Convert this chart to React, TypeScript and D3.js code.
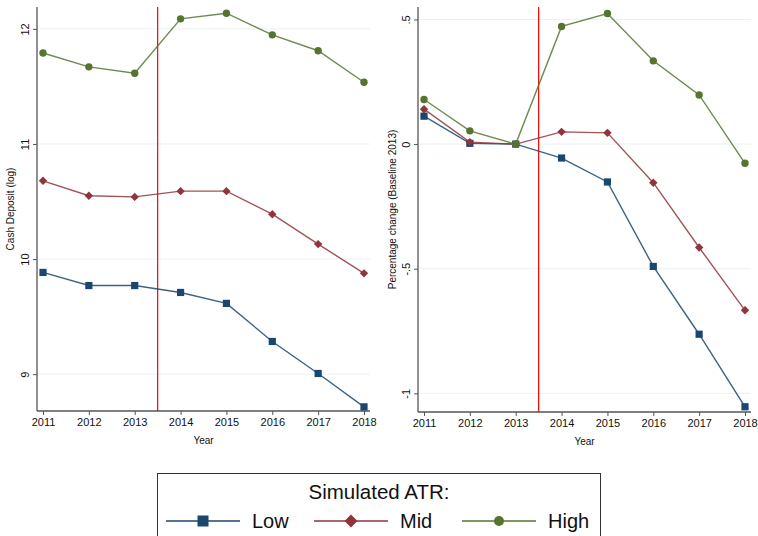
import React, { useEffect, useRef } from "react";
import * as d3 from "d3";

const years = [2011, 2012, 2013, 2014, 2015, 2016, 2017, 2018];
const groups = ["Low", "Mid", "High"];

// Cash deposit (log)
const depositLow = [9.884, 9.77, 9.77, 9.71, 9.615, 9.284, 9.006, 8.716];
const depositMid = [10.68, 10.55, 10.54, 10.59, 10.59, 10.39, 10.13, 9.876];
const depositHigh = [11.79, 11.67, 11.615, 12.087, 12.136, 11.948, 11.81, 11.536];

// Percentage change (baseline 2013)
const changeLow = [0.112, 0.003, 0, -0.056, -0.152, -0.491, -0.763, -1.054];
const changeMid = [0.14, 0.008, 0, 0.049, 0.045, -0.155, -0.415, -0.667];
const changeHigh = [0.179, 0.053, 0, 0.472, 0.524, 0.334, 0.197, -0.077];

const leftTicks = [9, 10, 11, 12];
const rightTicks = [-1, -0.5, 0, 0.5];
const rightTickLabels = ["-1", "-.5", "0", ".5"];

const colors: Record<string, string> = { Low: "#1a476f", Mid: "#90353b", High: "#55752f" };
const font = "'Liberation Sans', Arial, sans-serif";

function drawMarker(g: any, group: string, x: number, y: number) {
  if (group === "Low") {
    g.append("rect")
      .attr("x", x - 3.6)
      .attr("y", y - 3.6)
      .attr("width", 7.2)
      .attr("height", 7.2)
      .attr("fill", colors[group]);
  } else if (group === "Mid") {
    g.append("path")
      .attr("d", d3.symbol().type(d3.symbolDiamond2).size(45)())
      .attr("transform", "translate(" + x + "," + y + ")")
      .attr("fill", colors[group]);
  } else {
    g.append("circle").attr("cx", x).attr("cy", y).attr("r", 3.7).attr("fill", colors[group]);
  }
}

function drawPanel(svg: any, opts: any) {
  const { left, right, top, bottom, domain, ticks, tickLabels, series, yLabel, yLabelX } = opts;

  const x = d3.scaleLinear().domain([2011, 2018]).range([left + 6, right - 6]);
  const y = d3.scaleLinear().domain(domain).range([bottom, top]);

  const g = svg.append("g");

  // grid
  g.selectAll(".grid")
    .data(ticks)
    .enter()
    .append("line")
    .attr("x1", left)
    .attr("x2", right)
    .attr("y1", (d: number) => y(d))
    .attr("y2", (d: number) => y(d))
    .attr("stroke", "#eaf2f3")
    .attr("stroke-width", 1);

  // axes
  const yAxis = d3
    .axisLeft(y)
    .tickValues(ticks)
    .tickSize(4)
    .tickFormat((d: any, i: number) => tickLabels[i]);
  const ya = g
    .append("g")
    .attr("transform", "translate(" + left + ",0)")
    .call(yAxis);
  ya.select(".domain").attr("d", "M0," + top + "V" + bottom).attr("stroke", "#555").attr("stroke-width", 1.3);
  ya.selectAll(".tick line").attr("stroke", "#555");
  ya.selectAll(".tick text")
    .attr("font-family", font)
    .attr("font-size", 11)
    .attr("fill", "#111")
    .attr("transform", "rotate(-90)")
    .attr("x", 0)
    .attr("y", -8)
    .attr("dy", 0)
    .attr("text-anchor", "middle");

  const xAxis = d3.axisBottom(x).tickValues(years).tickSize(4).tickFormat(d3.format("d"));
  const xa = g
    .append("g")
    .attr("transform", "translate(0," + bottom + ")")
    .call(xAxis);
  xa.select(".domain").attr("d", "M" + left + ",0H" + right).attr("stroke", "#555").attr("stroke-width", 1.3);
  xa.selectAll(".tick line").attr("stroke", "#555");
  xa.selectAll(".tick text")
    .attr("font-family", font)
    .attr("font-size", 11)
    .attr("fill", "#111")
    .attr("y", 7);

  // reference line
  g.append("line")
    .attr("x1", x(2013.5))
    .attr("x2", x(2013.5))
    .attr("y1", top)
    .attr("y2", bottom)
    .attr("stroke", "#ff0000")
    .attr("stroke-width", 1.2);

  const line = d3
    .line<number>()
    .x((d, i) => x(years[i]))
    .y((d) => y(d));

  groups.forEach((grp, k) => {
    const vals = series[k];
    g.append("path")
      .attr("d", line(vals))
      .attr("fill", "none")
      .attr("stroke", colors[grp])
      .attr("stroke-opacity", 0.85)
      .attr("stroke-width", 1.4);
    vals.forEach((v: number, i: number) => drawMarker(g, grp, x(years[i]), y(v)));
  });

  // labels
  g.append("text")
    .attr("transform", "translate(" + yLabelX + "," + (top + bottom) / 2 + ") rotate(-90)")
    .attr("text-anchor", "middle")
    .attr("font-family", font)
    .attr("font-size", 10)
    .attr("fill", "#111")
    .text(yLabel);

  g.append("text")
    .attr("x", (x(2011) + x(2018)) / 2)
    .attr("y", bottom + 33)
    .attr("text-anchor", "middle")
    .attr("font-family", font)
    .attr("font-size", 10)
    .attr("fill", "#111")
    .text("Year");
}

export default function App() {
  const ref = useRef<SVGSVGElement>(null);

  useEffect(() => {
    const svg = d3.select(ref.current);
    svg.selectAll("*").remove();

    svg.append("rect").attr("width", 758).attr("height", 536).attr("fill", "#ffffff");

    drawPanel(svg, {
      left: 37,
      right: 370,
      top: 7,
      bottom: 411,
      domain: [8.68, 12.19],
      ticks: leftTicks,
      tickLabels: leftTicks.map(String),
      series: [depositLow, depositMid, depositHigh],
      yLabel: "Cash Deposit (log)",
      yLabelX: 14,
    });

    drawPanel(svg, {
      left: 418,
      right: 751,
      top: 7,
      bottom: 412,
      domain: [-1.075, 0.55],
      ticks: rightTicks,
      tickLabels: rightTickLabels,
      series: [changeLow, changeMid, changeHigh],
      yLabel: "Percentage change (Baseline 2013)",
      yLabelX: 396,
    });

    // legend
    const lg = svg.append("g");
    lg.append("rect")
      .attr("x", 157.5)
      .attr("y", 473.5)
      .attr("width", 443)
      .attr("height", 80)
      .attr("fill", "#fff")
      .attr("stroke", "#333")
      .attr("stroke-width", 1);
    lg.append("text")
      .attr("x", 379)
      .attr("y", 499)
      .attr("text-anchor", "middle")
      .attr("font-family", font)
      .attr("font-size", 20.5)
      .attr("fill", "#111")
      .text("Simulated ATR:");

    const items = lg
      .selectAll(".item")
      .data(groups)
      .enter()
      .append("g")
      .attr("transform", (d: string, i: number) => "translate(" + (166 + i * 148) + ",521)");
    items
      .append("line")
      .attr("x1", 0)
      .attr("x2", 74)
      .attr("y1", 0)
      .attr("y2", 0)
      .attr("stroke", (d: string) => colors[d])
      .attr("stroke-width", 1.4);
    items.each(function (this: any, d: string) {
      const it = d3.select(this);
      if (d === "Low") {
        it.append("rect").attr("x", 31.5).attr("y", -5.5).attr("width", 11).attr("height", 11).attr("fill", colors[d]);
      } else if (d === "Mid") {
        it.append("path").attr("d", "M37,-6.5L43.5,0L37,6.5L30.5,0Z").attr("fill", colors[d]);
      } else {
        it.append("circle").attr("cx", 37).attr("cy", 0).attr("r", 5).attr("fill", colors[d]);
      }
    });
    items
      .append("text")
      .attr("x", 86)
      .attr("y", 7)
      .attr("font-family", font)
      .attr("font-size", 20)
      .attr("fill", "#111")
      .text((d: string) => d);
  }, []);

  return (
    <svg
      ref={ref}
      width={758}
      height={536}
      style={{ position: "absolute", left: 0, top: 0, display: "block" }}
    />
  );
}
